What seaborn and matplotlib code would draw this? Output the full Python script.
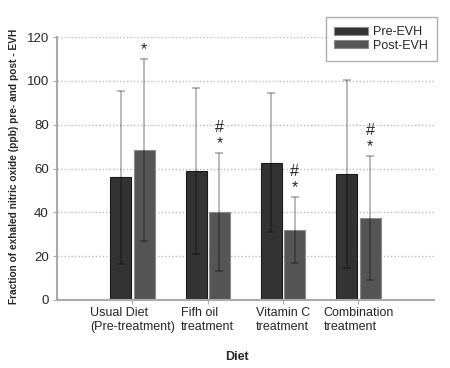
import matplotlib
matplotlib.use("Agg")
import matplotlib.pyplot as plt
import numpy as np
import pandas as pd
import seaborn as sns

# data
diets = ["Usual Diet\n(Pre-treatment)", "Fifh oil\ntreatment", "Vitamin C\ntreatment", "Combination\ntreatment"]
pre_mean = [56, 59, 62.7, 57.4]
pre_sd = [39.5, 38, 31.8, 43]
post_mean = [68.5, 40, 32, 37.4]
post_sd = [41.5, 27, 15, 28.4]
post_marks = ["*", "#\n*", "#\n*", "#\n*"]

df = pd.DataFrame({
    "diet": diets * 2,
    "value": pre_mean + post_mean,
    "phase": ["Pre-EVH"] * 4 + ["Post-EVH"] * 4,
})

sns.set_style("white")
plt.rcParams["font.family"] = ["Liberation Sans", "DejaVu Sans"]

fig = plt.figure(figsize=(4.5, 3.68), dpi=100)
ax = fig.add_axes([0.127, 0.185, 0.837, 0.714])

sns.barplot(data=df, x="diet", y="value", hue="phase",
            palette={"Pre-EVH": "#333333", "Post-EVH": "#555555"},
            width=0.62, gap=0.1, errorbar=None, ax=ax,
            edgecolor="#8a8a8a", linewidth=0.8)

# error bars on top of the bars
n = len(diets)
bars = ax.patches[:2 * n]
for i, p in enumerate(bars):
    grp = i % n
    if i < n:
        m, s = pre_mean[grp], pre_sd[grp]
        p.set_edgecolor("#1a1a1a")
    else:
        m, s = post_mean[grp], post_sd[grp]
    xc = p.get_x() + p.get_width() / 2
    ax.errorbar(xc, m, yerr=s, fmt="none", ecolor="black", alpha=0.35,
                elinewidth=1.1, capsize=3, capthick=1.1, zorder=3)
    if i >= n:
        ax.text(xc, m + s + 1.0, post_marks[grp], ha="center", va="bottom",
                fontsize=11.5, linespacing=1.05)

ax.set_xlim(-1, 4)
ax.set_ylim(0, 120)
ax.set_yticks(range(0, 121, 20))
ax.yaxis.grid(True, linestyle=(0, (1, 1.5)), color="#bbbbbb", linewidth=1)
ax.set_axisbelow(True)
for side in ["top", "right"]:
    ax.spines[side].set_visible(False)
for side in ["left", "bottom"]:
    ax.spines[side].set_color("#aaaaaa")
    ax.spines[side].set_linewidth(1.5)

ax.tick_params(axis="y", labelsize=9.5, length=3, color="#aaaaaa", left=True, pad=3)
ax.tick_params(axis="x", labelsize=9, length=3, color="#aaaaaa", bottom=True, pad=2)
for lab in ax.get_xticklabels():
    lab.set_multialignment("left")

ax.set_xlabel("")
ax.set_ylabel("")
fig.text(0.527, 0.03, "Diet", fontsize=9, fontweight="bold", ha="center", va="center")
fig.text(0.031, 0.549, "Fraction of exhaled nitric oxide (ppb) pre- and post - EVH",
         fontsize=7.3, fontweight="bold", rotation=90, ha="center", va="center")

leg = ax.legend(loc="upper right", bbox_to_anchor=(1.008, 1.076), fontsize=9,
                frameon=True, fancybox=False, edgecolor="#999999",
                borderaxespad=0, handlelength=2.7, handleheight=0.6,
                handletextpad=0.4, labelspacing=0.15, borderpad=0.7)
leg.get_frame().set_linewidth(1)

fig.savefig("out.png", dpi=100)
